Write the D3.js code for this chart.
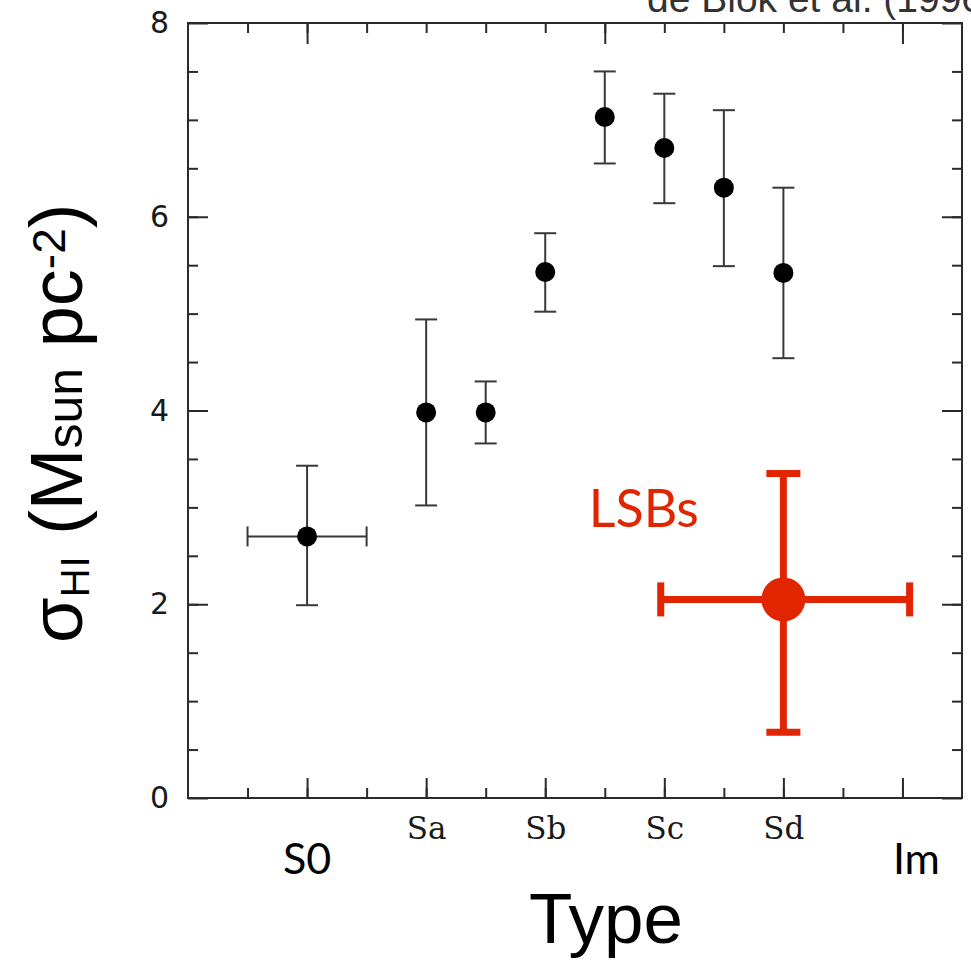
<!DOCTYPE html>
<html>
<head>
<meta charset="utf-8">
<script src="https://cdn.jsdelivr.net/npm/d3@7"></script>
<style>
  body { margin: 0; background: #fff; }
  .axis text { fill: #1a1a1a; }
</style>
</head>
<body>
<div id="chart"></div>
<script>
// galaxy types (half steps between the main Hubble types)
var types    = ["S0", "Sa", "Sab", "Sb", "Sbc", "Sc", "Scd", "Sd"];
var typePos  = [0, 1, 1.5, 2, 2.5, 3, 3.5, 4];
var typeErr  = [0.5, 0, 0, 0, 0, 0, 0, 0];
var sigma    = [2.70, 3.98, 3.98, 5.43, 7.03, 6.71, 6.30, 5.42];
var sigmaLo  = [1.99, 3.02, 3.66, 5.02, 6.55, 6.14, 5.49, 4.54];
var sigmaHi  = [3.43, 4.94, 4.30, 5.83, 7.50, 7.27, 7.10, 6.30];

// the LSB galaxies (red)
var lsbPos = 4.0, lsbPosLo = 2.97, lsbPosHi = 5.06;
var lsbSigma = 2.05, lsbSigmaLo = 0.68, lsbSigmaHi = 3.35;

// tick labels
var typeTicks  = [1, 2, 3, 4];
var typeLabels = ["Sa", "Sb", "Sc", "Sd"];
var extraTicks  = [0, 5];
var extraLabels = ["S0", "Im"];
var sigmaTicks = [0, 2, 4, 6, 8];
var topLongTicks = [0, 2.5, 5];

var W = 971, H = 960;
var margin = {left: 188, right: 962, top: 23, bottom: 798};

var svg = d3.select("#chart")
  .append("svg")
    .attr("width", W)
    .attr("height", H);

var x = d3.scaleLinear().domain([-1, 5.5]).range([margin.left, margin.right]);
var y = d3.scaleLinear().domain([0, 8]).range([margin.bottom, margin.top]);

var xMinor = d3.range(-0.5, 5.01, 0.5);
var yMinor = d3.range(0.5, 8, 0.5);
var ink = "#2a2a2a";

// ---- axes (ticks pointing inward) ----
function styleAxis(g) {
  g.select(".domain").remove();
  g.selectAll(".tick line").attr("stroke", ink).attr("stroke-width", 2);
}

// bottom: short minor ticks, long ticks with labels
svg.append("g").attr("transform", "translate(0," + margin.bottom + ")")
  .call(d3.axisBottom(x).tickValues(xMinor).tickSize(-10).tickFormat(""))
  .call(styleAxis);
svg.append("g").attr("class", "axis").attr("transform", "translate(0," + margin.bottom + ")")
  .call(d3.axisBottom(x).tickValues([0, 1, 2, 3, 4, 5]).tickSize(-20).tickPadding(19)
    .tickFormat(function(d) { var i = typeTicks.indexOf(d); return i < 0 ? "" : typeLabels[i]; }))
  .call(styleAxis)
  .selectAll("text")
    .style("font-family", "'DejaVu Serif', serif")
    .style("font-size", "31px");

// top
svg.append("g").attr("transform", "translate(0," + margin.top + ")")
  .call(d3.axisTop(x).tickValues(xMinor).tickSize(-10).tickFormat(""))
  .call(styleAxis);
svg.append("g").attr("transform", "translate(0," + margin.top + ")")
  .call(d3.axisTop(x).tickValues(topLongTicks).tickSize(-21).tickFormat(""))
  .call(styleAxis);

// left
svg.append("g").attr("transform", "translate(" + margin.left + ",0)")
  .call(d3.axisLeft(y).tickValues(yMinor).tickSize(-10).tickFormat(""))
  .call(styleAxis);
svg.append("g").attr("class", "axis").attr("transform", "translate(" + margin.left + ",0)")
  .call(d3.axisLeft(y).tickValues(sigmaTicks).tickSize(-20).tickPadding(19).tickFormat(d3.format("d")))
  .call(styleAxis)
  .selectAll("text")
    .style("font-family", "'DejaVu Sans', sans-serif")
    .style("font-size", "30px");

// right
svg.append("g").attr("transform", "translate(" + margin.right + ",0)")
  .call(d3.axisRight(y).tickValues(yMinor).tickSize(-10).tickFormat(""))
  .call(styleAxis);
svg.append("g").attr("transform", "translate(" + margin.right + ",0)")
  .call(d3.axisRight(y).tickValues(sigmaTicks).tickSize(-20).tickFormat(""))
  .call(styleAxis);

// frame
svg.append("rect")
  .attr("x", margin.left).attr("y", margin.top)
  .attr("width", margin.right - margin.left).attr("height", margin.bottom - margin.top)
  .attr("fill", "none").attr("stroke", ink).attr("stroke-width", 2);

// S0 / Im labels added below the axis
svg.selectAll("extra")
  .data(extraTicks)
  .enter()
  .append("text")
    .attr("x", function(d) { return x(d) + (d == 5 ? 14 : 0); })
    .attr("y", 874)
    .attr("text-anchor", "middle")
    .style("font-family", "Lato, sans-serif")
    .style("font-size", "43px")
    .style("fill", "#000")
    .text(function(d, i) { return extraLabels[i]; });

// ---- black points with error bars ----
var pts = types.map(function(t, i) {
  return {t: t, x: typePos[i], xe: typeErr[i], y: sigma[i], lo: sigmaLo[i], hi: sigmaHi[i]};
});
var gPts = svg.append("g");
var capW = 11;
var barInk = "#383838";

gPts.selectAll("vbar").data(pts).enter().append("line")
  .attr("x1", function(d) { return x(d.x); })
  .attr("x2", function(d) { return x(d.x); })
  .attr("y1", function(d) { return y(d.lo); })
  .attr("y2", function(d) { return y(d.hi); })
  .attr("stroke", barInk).attr("stroke-width", 2);

gPts.selectAll("capLo").data(pts).enter().append("line")
  .attr("x1", function(d) { return x(d.x) - capW; })
  .attr("x2", function(d) { return x(d.x) + capW; })
  .attr("y1", function(d) { return y(d.lo); })
  .attr("y2", function(d) { return y(d.lo); })
  .attr("stroke", barInk).attr("stroke-width", 2);

gPts.selectAll("capHi").data(pts).enter().append("line")
  .attr("x1", function(d) { return x(d.x) - capW; })
  .attr("x2", function(d) { return x(d.x) + capW; })
  .attr("y1", function(d) { return y(d.hi); })
  .attr("y2", function(d) { return y(d.hi); })
  .attr("stroke", barInk).attr("stroke-width", 2);

// horizontal error (only S0)
var withX = pts.filter(function(d) { return d.xe > 0; });
gPts.selectAll("hbar").data(withX).enter().append("line")
  .attr("x1", function(d) { return x(d.x - d.xe); })
  .attr("x2", function(d) { return x(d.x + d.xe); })
  .attr("y1", function(d) { return y(d.y); })
  .attr("y2", function(d) { return y(d.y); })
  .attr("stroke", barInk).attr("stroke-width", 2);
gPts.selectAll("hcapL").data(withX).enter().append("line")
  .attr("x1", function(d) { return x(d.x - d.xe); })
  .attr("x2", function(d) { return x(d.x - d.xe); })
  .attr("y1", function(d) { return y(d.y) - 10; })
  .attr("y2", function(d) { return y(d.y) + 10; })
  .attr("stroke", barInk).attr("stroke-width", 2);
gPts.selectAll("hcapR").data(withX).enter().append("line")
  .attr("x1", function(d) { return x(d.x + d.xe); })
  .attr("x2", function(d) { return x(d.x + d.xe); })
  .attr("y1", function(d) { return y(d.y) - 10; })
  .attr("y2", function(d) { return y(d.y) + 10; })
  .attr("stroke", barInk).attr("stroke-width", 2);

gPts.selectAll("dot").data(pts).enter().append("circle")
  .attr("cx", function(d) { return x(d.x); })
  .attr("cy", function(d) { return y(d.y); })
  .attr("r", 10)
  .style("fill", "#000");

// ---- LSB point (red) ----
var red = "#e02500";
var gL = svg.append("g").attr("stroke", red).attr("stroke-width", 7);
gL.append("line")
  .attr("x1", x(lsbPos)).attr("x2", x(lsbPos))
  .attr("y1", y(lsbSigmaLo)).attr("y2", y(lsbSigmaHi));
gL.append("line")
  .attr("x1", x(lsbPosLo)).attr("x2", x(lsbPosHi))
  .attr("y1", y(lsbSigma)).attr("y2", y(lsbSigma));
[lsbSigmaLo, lsbSigmaHi].forEach(function(v) {
  gL.append("line")
    .attr("x1", x(lsbPos) - 17).attr("x2", x(lsbPos) + 17)
    .attr("y1", y(v)).attr("y2", y(v));
});
[lsbPosLo, lsbPosHi].forEach(function(v) {
  gL.append("line")
    .attr("x1", x(v)).attr("x2", x(v))
    .attr("y1", y(lsbSigma) - 17).attr("y2", y(lsbSigma) + 17);
});
svg.append("circle")
  .attr("cx", x(lsbPos)).attr("cy", y(lsbSigma))
  .attr("r", 22).style("fill", red);

svg.append("text")
  .attr("x", x(lsbPosLo) - 72)
  .attr("y", y(lsbSigmaHi) + 54)
  .style("font-family", "Lato, sans-serif")
  .style("font-size", "52px")
  .style("fill", red)
  .text("LSBs");

// ---- axis titles ----
svg.append("text")
  .attr("x", 606)
  .attr("y", 943)
  .attr("text-anchor", "middle")
  .style("font-family", "'Liberation Sans', Arial, sans-serif")
  .style("font-size", "71px")
  .text("Type");

var yl = svg.append("text")
  .attr("transform", "translate(82,643) rotate(-90)")
  .style("font-family", "'Liberation Sans', Arial, sans-serif")
  .style("font-size", "74px")
  .style("fill", "#000");
yl.append("tspan").text("σ");
yl.append("tspan").attr("dy", 7).style("font-size", "40px").style("letter-spacing", "1px").text("HI");
yl.append("tspan").attr("dy", -7).text(" (M");
yl.append("tspan").style("font-size", "50px").text("sun");
yl.append("tspan").text(" pc");
yl.append("tspan").attr("dy", -17).style("font-size", "46px").text("-2");
yl.append("tspan").attr("dy", 17).text(")");

// source note, runs off the top right corner
svg.append("text")
  .attr("x", 647)
  .attr("y", 12)
  .style("font-family", "'Liberation Sans', Arial, sans-serif")
  .style("font-size", "39px")
  .style("font-weight", 300)
  .style("fill", "#333")
  .text("de Blok et al. (1996)");
</script>
</body>
</html>
